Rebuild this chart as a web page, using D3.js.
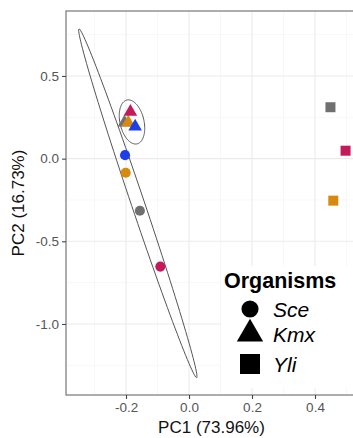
<!DOCTYPE html>
<html><head><meta charset="utf-8">
<script src="https://cdn.jsdelivr.net/npm/d3@7"></script>
<style>body{margin:0;background:#fff}svg{display:block}text{font-family:"Liberation Sans",Arial,sans-serif}</style>
</head><body>
<script>
// ---- data ----
const organisms = ["Sce", "Kmx", "Yli"];
const strains = ["gray", "orange", "blue", "crimson"];
const pc1 = {
  Sce: [-0.156, -0.201, -0.203, -0.091],
  Kmx: [-0.205, -0.193, -0.171, -0.186],
  Yli: [0.449, 0.458, null, 0.497]
};
const pc2 = {
  Sce: [-0.315, -0.085, 0.021, -0.653],
  Kmx: [0.218, 0.218, 0.194, 0.283],
  Yli: [0.311, -0.254, null, 0.048]
};
const xTicks = [-0.2, 0.0, 0.2, 0.4];
const yTicks = [0.5, 0.0, -0.5, -1.0];
const xMinor = [-0.3, -0.1, 0.1, 0.3, 0.5];
const yMinor = [0.75, 0.25, -0.25, -0.75, -1.25];
// ellipses (stat_ellipse): centre and two semi-axis vectors, in data units
const ellipseGroups = ["Sce", "Kmx"];
const ellipseCentre = [[-0.1625, -0.270], [-0.181, 0.222]];
const ellipseAxisA = [[-0.1868, 1.0548], [-0.0161, 0.1326]];
const ellipseAxisB = [[0.0198, 0.0128], [0.0371, 0.0163]];
const xTitle = "PC1 (73.96%)";
const yTitle = "PC2 (16.73%)";
const legendTitle = "Organisms";

// ---- layout ----
const W = 353, H = 438;
const L = 66, R = 357, T = 11, B = 395;
const colour = d3.scaleOrdinal().domain(strains).range(["#707070", "#d88a0e", "#1f3fe6", "#c4195a"]);
const shape = d3.scaleOrdinal().domain(organisms).range([d3.symbolCircle, d3.symbolTriangle, d3.symbolSquare]);
const size = d3.scaleOrdinal().domain(organisms).range([80, 80, 100]);

const x = d3.scaleLinear().domain([-0.3905, 0.5333]).range([L, R]);
const y = d3.scaleLinear().domain([0.893, -1.4296]).range([T, B]);

const svg = d3.select("body").append("svg").attr("width", W).attr("height", H);
const clip = svg.append("clipPath").attr("id", "c").append("rect")
  .attr("x", L).attr("y", T).attr("width", R - L).attr("height", B - T);
const panel = svg.append("g").attr("clip-path", "url(#c)");
panel.append("rect").attr("x", L).attr("y", T).attr("width", R - L).attr("height", B - T).attr("fill", "#fff");

// grid
panel.selectAll(".vmin").data(xMinor).join("line")
  .attr("x1", d => x(d)).attr("x2", d => x(d)).attr("y1", T).attr("y2", B)
  .attr("stroke", "#f2f2f2").attr("stroke-width", 0.6);
panel.selectAll(".hmin").data(yMinor).join("line")
  .attr("y1", d => y(d)).attr("y2", d => y(d)).attr("x1", L).attr("x2", R)
  .attr("stroke", "#f2f2f2").attr("stroke-width", 0.6);
panel.selectAll(".vmaj").data(xTicks).join("line")
  .attr("x1", d => x(d)).attr("x2", d => x(d)).attr("y1", T).attr("y2", B)
  .attr("stroke", "#ebebeb").attr("stroke-width", 1.1);
panel.selectAll(".hmaj").data(yTicks).join("line")
  .attr("y1", d => y(d)).attr("y2", d => y(d)).attr("x1", L).attr("x2", R)
  .attr("stroke", "#ebebeb").attr("stroke-width", 1.1);

// ellipses
const line = d3.line();
ellipseGroups.forEach((g, i) => {
  const [cx, cy] = ellipseCentre[i], [ax, ay] = ellipseAxisA[i], [bx, by] = ellipseAxisB[i];
  const pts = d3.range(0, 361, 3).map(a => {
    const t = a * Math.PI / 180;
    return [x(cx + ax * Math.cos(t) + bx * Math.sin(t)), y(cy + ay * Math.cos(t) + by * Math.sin(t))];
  });
  panel.append("path").attr("d", line(pts)).attr("fill", "none").attr("stroke", "#555").attr("stroke-width", 1);
});

// points
const pts = [];
organisms.forEach(o => strains.forEach((s, i) => {
  if (pc1[o][i] != null) pts.push({o, s, x: pc1[o][i], y: pc2[o][i]});
}));
panel.selectAll(".pt").data(pts).join("path")
  .attr("transform", d => `translate(${x(d.x)},${y(d.y)})`)
  .attr("d", d => d3.symbol().type(shape(d.o)).size(size(d.o))())
  .attr("fill", d => colour(d.s));

// legend
const lg = svg.append("g");
lg.append("rect").attr("x", 221).attr("y", 266).attr("width", 140).attr("height", 122).attr("fill", "#fff");
lg.append("text").attr("x", 224).attr("y", 288).attr("font-size", 21.5).attr("font-weight", "bold").attr("fill", "#000").text(legendTitle);
const keySize = [230, 300, 400];
const keyY = [309, 334, 364];
organisms.forEach((o, i) => {
  lg.append("path").attr("transform", `translate(250,${keyY[i]})`)
    .attr("d", d3.symbol().type(shape(o)).size(keySize[i])()).attr("fill", "#000");
  lg.append("text").attr("x", 273).attr("y", keyY[i] + 8).attr("font-size", 21)
    .attr("font-style", "italic").attr("fill", "#000").text(o);
});

// border
svg.append("rect").attr("x", L).attr("y", T).attr("width", R - L).attr("height", B - T)
  .attr("fill", "none").attr("stroke", "#777").attr("stroke-width", 1.2);

// axes
const xa = svg.append("g").attr("transform", `translate(0,${B})`)
  .call(d3.axisBottom(x).tickValues(xTicks).tickFormat(d3.format(".1f")).tickSize(4).tickPadding(3));
const ya = svg.append("g").attr("transform", `translate(${L},0)`)
  .call(d3.axisLeft(y).tickValues(yTicks).tickFormat(d3.format(".1f")).tickSize(4).tickPadding(3));
[xa, ya].forEach(a => {
  a.select(".domain").remove();
  a.selectAll(".tick line").attr("stroke", "#444").attr("stroke-width", 1.1);
  a.selectAll(".tick text").attr("fill", "#555").attr("font-size", 13.5)
    .attr("font-family", "Liberation Sans, Arial, sans-serif");
});
xa.selectAll(".tick text").text(d => d3.format(".1f")(d).replace("−", "-"));
ya.selectAll(".tick text").text(d => d3.format(".1f")(d).replace("−", "-"));

svg.append("text").attr("x", (L + R) / 2).attr("y", 433).attr("text-anchor", "middle")
  .attr("font-size", 17).attr("fill", "#111").text(xTitle);
svg.append("text").attr("transform", `translate(24,${(T + B) / 2}) rotate(-90)`).attr("text-anchor", "middle")
  .attr("font-size", 17).attr("fill", "#111").text(yTitle);
</script>
</body></html>
